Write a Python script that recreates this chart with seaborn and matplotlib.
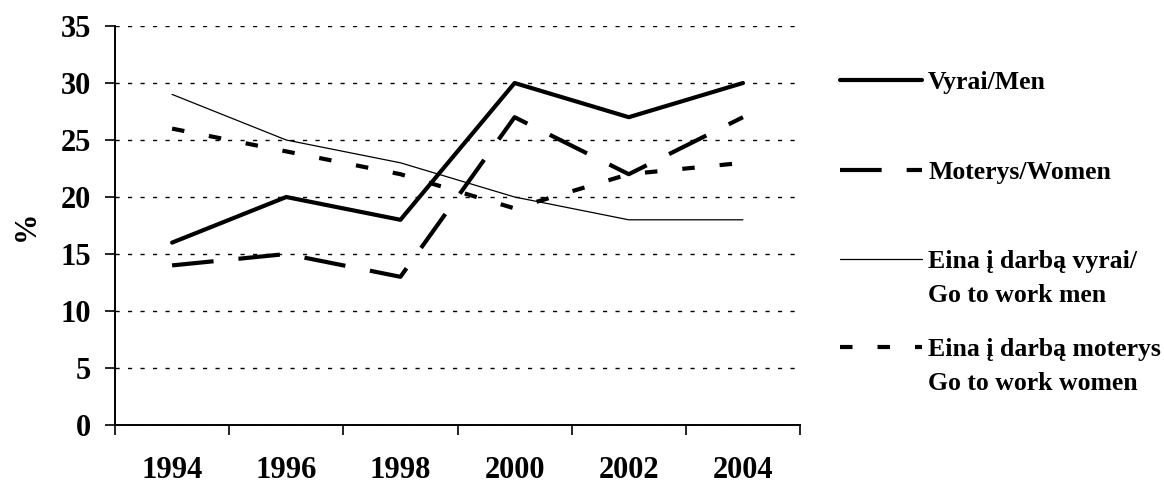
import pandas as pd
import matplotlib.pyplot as plt
import seaborn as sns
from matplotlib.lines import Line2D

# values
years = ["1994", "1996", "1998", "2000", "2002", "2004"]
men = [16, 20, 18, 30, 27, 30]
women = [14, 15, 13, 27, 22, 27]
work_men = [29, 25, 23, 20, 18, 18]
work_women = [26, 24, 22, 19, 22, 23]

labels = ["Vyrai/Men", "Moterys/Women",
          "Eina į darbą vyrai/\nGo to work men",
          "Eina į darbą moterys\nGo to work women"]

sns.set_style("white")
plt.rcParams['font.family'] = ['Liberation Serif', 'DejaVu Serif']
plt.rcParams['font.weight'] = 'bold'
for key in ['text.color', 'axes.labelcolor', 'xtick.color', 'ytick.color']:
    plt.rcParams[key] = 'black'

df = pd.DataFrame({"pos": range(len(years)), "men": men, "women": women,
                   "work_men": work_men, "work_women": work_women})

styles = [
    ("men", dict(lw=3, linestyle='-', solid_capstyle='round')),
    ("women", dict(lw=3, linestyle=(0, (10, 6)), dash_capstyle='butt')),
    ("work_men", dict(lw=0.9, linestyle='-')),
    ("work_women", dict(lw=3, linestyle=(0, (3, 6)), dash_capstyle='butt')),
]

fig = plt.figure(figsize=(11.64, 4.86), dpi=100)
ax = fig.add_axes([0.0988, 0.1255, 0.5885, 0.821])

for col, kw in styles:
    sns.lineplot(data=df, x="pos", y=col, color="black", ax=ax, **kw)

ax.set_xlim(-0.5, len(years) - 0.5)
ax.set_ylim(0, 35)
ax.set_yticks(range(0, 36, 5))
ax.set_xticks([i - 0.5 for i in range(len(years) + 1)], minor=False)
ax.set_xticklabels([])
ax.set_xticks(range(len(years)), minor=True)
ax.set_xticklabels(years, minor=True)
ax.tick_params(axis='x', which='minor', length=0, pad=22, labelsize=22)
ax.tick_params(axis='x', which='major', direction='out', length=7, width=1.2, bottom=True)
ax.tick_params(axis='y', direction='out', length=7, width=1.2, left=True, labelsize=22, pad=10)
ax.grid(axis='y', color='black', linestyle=(0, (3, 6)), linewidth=1)
ax.set_xlabel("")
ax.set_ylabel("%", fontsize=22, fontweight='bold', labelpad=14)
for s in ["top", "right"]:
    ax.spines[s].set_visible(False)
for s in ["left", "bottom"]:
    ax.spines[s].set_linewidth(1.4)
    ax.spines[s].set_color("black")

# legend drawn by hand so handles sit on the first line of each label
ys = [80, 170, 259, 347]
for (col, kw), lab, y in zip(styles, labels, ys):
    yf = 1 - y / 486
    fig.add_artist(Line2D([840 / 1164, 922 / 1164], [yf, yf], color="black",
                          transform=fig.transFigure, **kw))
    for i, line in enumerate(lab.split("\n")):
        fig.text(928 / 1164, 1 - (y + 34 * i) / 486, line, fontsize=18.5,
                 fontweight='bold', va='center_baseline', ha='left')

fig.savefig("out.png", dpi=100)
